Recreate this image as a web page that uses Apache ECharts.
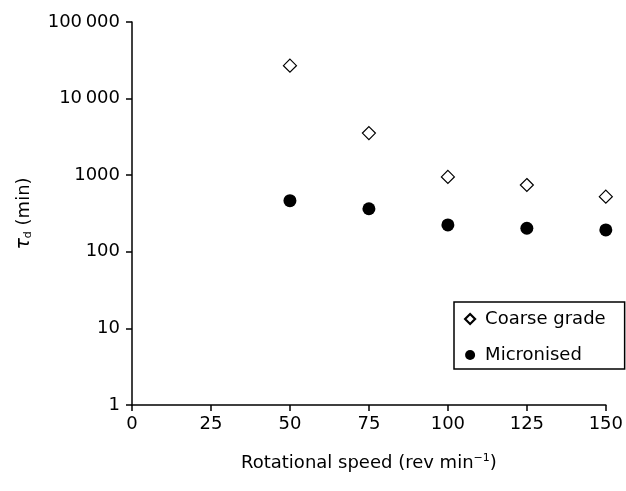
<!DOCTYPE html>
<html>
<head>
<meta charset="utf-8">
<script src="https://cdn.jsdelivr.net/npm/echarts@6/dist/echarts.min.js"></script>
<style>
  html, body { margin: 0; padding: 0; background: #fff; }
  #chart { width: 626px; height: 491px; }
</style>
</head>
<body>
<div id="chart"></div>
<script>
const speeds = [50, 75, 100, 125, 150]
const coarseGrade = [26900, 3550, 950, 745, 525]
const micronised = [465, 365, 224, 203, 193]
const yTickLabels = { 1: '1', 10: '10', 100: '100', 1000: '1000', 10000: '10\u2009000', 100000: '100\u2009000' }

const fontFamily = '"DejaVu Sans", "Noto Sans", sans-serif'

const chart = echarts.init(document.getElementById('chart'))

const option = {
  animation: false,
  grid: {
    left: 132,
    right: 20,
    top: 22,
    bottom: 86
  },
  legend: {
    left: 454,
    top: 302,
    orient: 'vertical',
    padding: [8, 19, 5, 10],
    itemGap: 18,
    itemWidth: 10,
    itemHeight: 10,
    borderColor: '#000',
    borderWidth: 1.5,
    borderRadius: 0,
    textStyle: { fontFamily: fontFamily, fontSize: 18, color: '#000', padding: [0, 0, 0, 5] },
    data: [
      { name: 'Coarse grade', itemStyle: { color: '#fff', borderColor: '#000', borderWidth: 2.2 } },
      { name: 'Micronised', itemStyle: { color: '#000' } }
    ]
  },
  xAxis: {
    type: 'value',
    min: 0,
    max: 150,
    interval: 25,
    name: 'Rotational speed (rev min{sup|\u22121})',
    nameLocation: 'middle',
    nameGap: 48,
    nameTextStyle: {
      fontFamily: fontFamily,
      fontSize: 18,
      color: '#000',
      rich: {
        sup: { fontSize: 11, verticalAlign: 'top', padding: [0, 0, 9, 0], fontFamily: fontFamily }
      }
    },
    axisLine: { lineStyle: { color: '#000', width: 1.5 } },
    axisTick: { show: true, inside: false, length: 6, lineStyle: { color: '#000', width: 1.5 } },
    axisLabel: { fontFamily: fontFamily, fontSize: 18, color: '#000', margin: 10 },
    splitLine: { show: false }
  },
  yAxis: {
    type: 'log',
    logBase: 10,
    min: 1,
    max: 100000,
    name: '{t|\u03c4}{s|d} (min)',
    nameLocation: 'middle',
    nameRotate: 90,
    nameGap: 98,
    nameTextStyle: {
      fontFamily: fontFamily,
      fontSize: 18,
      color: '#000',
      rich: {
        t: { fontSize: 19, fontStyle: 'italic', fontFamily: fontFamily },
        s: { fontSize: 11, verticalAlign: 'bottom', padding: [7, 0, 0, 0], fontFamily: fontFamily }
      }
    },
    axisLine: { show: true, lineStyle: { color: '#000', width: 1.5 } },
    axisTick: { show: true, inside: false, length: 6, lineStyle: { color: '#000', width: 1.5 } },
    axisLabel: {
      fontFamily: fontFamily,
      fontSize: 18,
      color: '#000',
      margin: 12,
      formatter: function (v) { return yTickLabels[Math.round(v)] || '' }
    },
    splitLine: { show: false }
  },
  series: [
    {
      name: 'Coarse grade',
      type: 'scatter',
      symbol: 'diamond',
      symbolSize: 13,
      itemStyle: { color: '#fff', borderColor: '#000', borderWidth: 1.2, opacity: 1 },
      data: speeds.map((s, i) => [s, coarseGrade[i]])
    },
    {
      name: 'Micronised',
      type: 'scatter',
      symbol: 'circle',
      symbolSize: 13,
      itemStyle: { color: '#000', opacity: 1 },
      data: speeds.map((s, i) => [s, micronised[i]])
    }
  ]
}

chart.setOption(option)
</script>
</body>
</html>
